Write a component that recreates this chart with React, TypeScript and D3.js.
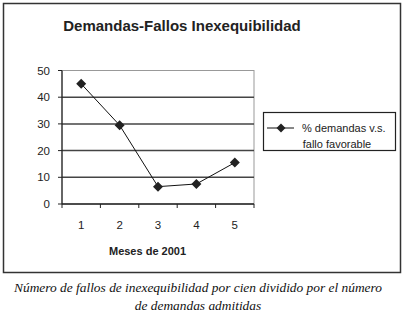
import React from "react";
import * as d3 from "d3";

const months = ["1", "2", "3", "4", "5"];
const values = [45, 29.5, 6.5, 7.5, 15.5];
const yTicks = [0, 10, 20, 30, 40, 50];
const title = "Demandas-Fallos Inexequibilidad";
const xTitle = "Meses de 2001";
const legendLines = ["% demandas v.s.", "fallo favorable"];
const captionLines = [
  "Número de fallos de inexequibilidad por cien dividido por el número",
  "de demandas admitidas",
];

export default function App() {
  const W = 405, H = 313;
  const left = 62, right = 254, top = 70.5, bottom = 204;
  const x = d3.scaleBand<string>().domain(months).range([left, right]);
  const y = d3.scaleLinear().domain([0, 50]).range([bottom, top]);
  const line = d3
    .line<number>()
    .x((_, i) => (x(months[i]) as number) + x.bandwidth() / 2)
    .y((d) => y(d));
  const diamond = (cx: number, cy: number, r = 5) =>
    `M${cx},${cy - r}L${cx + r},${cy}L${cx},${cy + r}L${cx - r},${cy}Z`;
  const sans = "Arial, 'Liberation Sans', sans-serif";
  const boundaries = months.map((m) => x(m) as number).concat([right]);
  return (
    <svg
      width={W}
      height={H}
      style={{ position: "absolute", left: 0, top: 0, background: "#fff" }}
    >
      <rect x={0} y={0} width={W} height={H} fill="#fff" />
      <rect x={3.5} y={3.5} width={397} height={269} fill="none" stroke="#333" strokeWidth={1.5} />
      <text x={182} y={31} textAnchor="middle" fontFamily={sans} fontWeight="bold" fontSize={15} fill="#222">
        {title}
      </text>
      {/* plot border */}
      <rect x={left} y={top} width={right - left} height={bottom - top} fill="none" stroke="#999" strokeWidth={1} />
      {/* gridlines */}
      {yTicks.filter((t) => t > 0 && t < 50).map((t) => (
        <line key={t} x1={left} x2={right} y1={y(t)} y2={y(t)} stroke="#444" strokeWidth={1.5} />
      ))}
      {/* y axis */}
      <line x1={left} x2={left} y1={top} y2={bottom} stroke="#222" strokeWidth={1.2} />
      {yTicks.map((t) => (
        <g key={t}>
          <line x1={left - 4} x2={left} y1={y(t)} y2={y(t)} stroke="#222" />
          <text x={50} y={y(t)} dy="0.35em" textAnchor="end" fontFamily={sans} fontSize={11.5} fill="#222">
            {t}
          </text>
        </g>
      ))}
      {/* x axis */}
      <line x1={left} x2={right} y1={bottom} y2={bottom} stroke="#222" strokeWidth={1.5} />
      {boundaries.map((b, i) => (
        <line key={i} x1={b} x2={b} y1={bottom} y2={bottom + 4} stroke="#222" />
      ))}
      {months.map((m) => (
        <text
          key={m}
          x={(x(m) as number) + x.bandwidth() / 2}
          y={225}
          dy="0.35em"
          textAnchor="middle"
          fontFamily={sans}
          fontSize={11.5}
          fill="#222"
        >
          {m}
        </text>
      ))}
      <text x={147.5} y={251} dy="0.35em" textAnchor="middle" fontFamily={sans} fontWeight="bold" fontSize={11} fill="#222">
        {xTitle}
      </text>
      {/* series */}
      <path d={line(values) || ""} fill="none" stroke="#111" strokeWidth={1} />
      {values.map((v, i) => (
        <path key={i} d={diamond((x(months[i]) as number) + x.bandwidth() / 2, y(v))} fill="#222" />
      ))}
      {/* legend */}
      <rect x={263.5} y={112.5} width={132} height={38} fill="#fff" stroke="#222" strokeWidth={1.2} />
      <line x1={267} x2={294} y1={128} y2={128} stroke="#111" strokeWidth={1} />
      <path d={diamond(281, 128, 4.5)} fill="#222" />
      <text x={302} y={128} dy="0.35em" fontFamily={sans} fontSize={11} fill="#222">
        {legendLines[0]}
      </text>
      <text x={337} y={144.5} dy="0.35em" textAnchor="middle" fontFamily={sans} fontSize={11} fill="#222">
        {legendLines[1]}
      </text>
      {/* caption */}
      {captionLines.map((c, i) => (
        <text
          key={i}
          x={198}
          y={292 + i * 18}
          textAnchor="middle"
          fontFamily="'Liberation Serif', 'Times New Roman', serif"
          fontStyle="italic"
          fontSize={13.4}
          fill="#111"
        >
          {c}
        </text>
      ))}
    </svg>
  );
}
